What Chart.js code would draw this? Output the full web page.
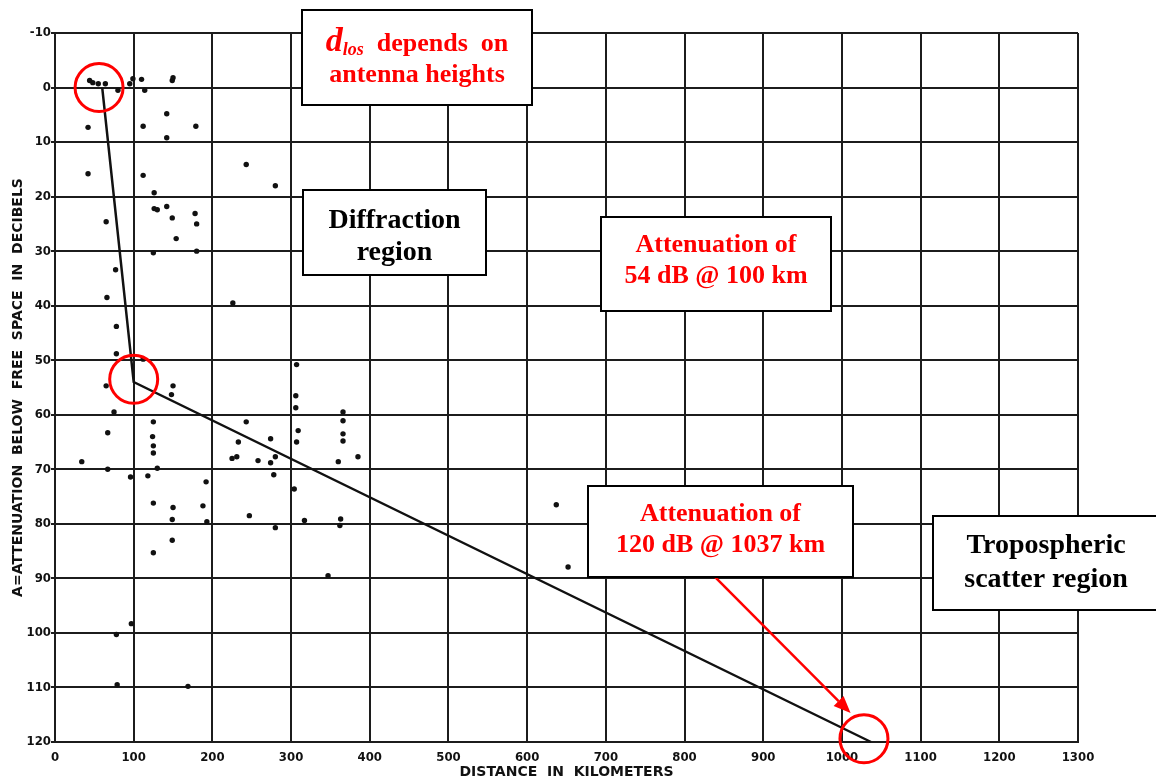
<!DOCTYPE html>
<html>
<head>
<meta charset="utf-8">
<script src="https://cdn.jsdelivr.net/npm/chart.js@4.4.0/dist/chart.umd.min.js"></script>
<style>
  html, body { margin: 0; padding: 0; background: #fff; }
  #wrap { width: 1156px; height: 781px; }
</style>
</head>
<body>
<div id="wrap"><canvas id="myChart" width="1156" height="781"></canvas></div>
<script>
// measured path loss samples: distance (km) and attenuation below free space (dB)
var sampleDist = [44, 48, 55, 64, 80, 95, 99, 110, 114, 149, 150,
  142, 42, 112, 179, 142, 243, 280, 42, 112, 126, 126, 130, 142, 149, 178, 180, 65, 154, 125, 180,
  77, 66, 226, 78, 78, 112, 65, 150, 148, 75, 125, 67, 124, 125, 125, 34, 67, 96, 118, 130,
  125, 150, 188, 192, 243, 233, 225, 231, 258, 274, 274, 280, 278,
  307, 306, 306, 309, 307, 304, 366, 366, 366, 366, 360, 385,
  149, 193, 247, 280, 317, 363, 362, 149, 125, 347, 97, 78, 79, 169, 637, 652];
var sampleLoss = [-1.3, -0.9, -0.7, -0.7, 0.5, -0.7, -1.6, -1.5, 0.5, -1.3, -1.8,
  4.8, 7.3, 7.1, 7.1, 9.2, 14.1, 18, 15.8, 16.1, 19.3, 22.2, 22.4, 21.8, 23.9, 23.1, 25, 24.6, 27.7, 30.3, 30,
  33.4, 38.5, 39.5, 43.8, 48.8, 49.8, 54.7, 54.7, 56.3, 59.5, 61.3, 63.3, 64, 65.7, 67, 68.6, 70, 71.4, 71.2, 69.8,
  76.2, 77, 76.7, 72.3, 61.3, 65, 68, 67.7, 68.4, 64.4, 68.8, 67.7, 71,
  50.8, 56.5, 58.7, 62.9, 65, 73.6, 59.5, 61.1, 63.5, 64.8, 68.6, 67.7,
  79.2, 79.6, 78.5, 80.7, 79.4, 79.1, 80.3, 83, 85.3, 89.5, 98.3, 100.3, 109.5, 109.8, 76.5, 87.9];

// piecewise curve: line of sight -> diffraction -> tropospheric scatter
var fitDist = [60, 100, 1037];
var fitLoss = [0, 54, 120];

// highlighted spots on the curve
var ringDist = [56, 100, 1028];
var ringLoss = [0, 53.5, 119.4];

// pointer from the 1037 km note down to the end of the curve
var arrowFrom = [837, 89.5];
var arrowTo = [1011, 114.7];

var xTicks = [0, 100, 200, 300, 400, 500, 600, 700, 800, 900, 1000, 1100, 1200, 1300];
var yTicks = [-10, 0, 10, 20, 30, 40, 50, 60, 70, 80, 90, 100, 110, 120];

function pts(xs, ys) {
  return xs.map(function (v, i) { return { x: v, y: ys[i] }; });
}

var RED = '#ff0000';
var SERIF = '"Liberation Serif", "Times New Roman", serif';

var boxes = [
  { x: 302, y: 10, w: 230, h: 95, color: RED, lines: [
    { base: 51, parts: [
      { t: 'd', font: 'italic bold 34px ' + SERIF, dy: 0 },
      { t: 'los', font: 'italic bold 18px ' + SERIF, dy: 4 },
      { t: '  depends  on', font: 'bold 26px ' + SERIF, dy: 0 }] },
    { base: 82, parts: [{ t: 'antenna heights', font: 'bold 26px ' + SERIF, dy: 0 }] }] },
  { x: 303, y: 190, w: 183, h: 85, color: '#000', lines: [
    { base: 228, parts: [{ t: 'Diffraction', font: 'bold 28px ' + SERIF, dy: 0 }] },
    { base: 260, parts: [{ t: 'region', font: 'bold 28px ' + SERIF, dy: 0 }] }] },
  { x: 601, y: 217, w: 230, h: 94, color: RED, lines: [
    { base: 252, parts: [{ t: 'Attenuation of', font: 'bold 26px ' + SERIF, dy: 0 }] },
    { base: 283, parts: [{ t: '54 dB @ 100 km', font: 'bold 26px ' + SERIF, dy: 0 }] }] },
  { x: 588, y: 486, w: 265, h: 91, color: RED, lines: [
    { base: 521, parts: [{ t: 'Attenuation of', font: 'bold 26px ' + SERIF, dy: 0 }] },
    { base: 552, parts: [{ t: '120 dB @ 1037 km', font: 'bold 26px ' + SERIF, dy: 0 }] }] },
  { x: 933, y: 516, w: 226, h: 94, color: '#000', lines: [
    { base: 553, parts: [{ t: 'Tropospheric', font: 'bold 28px ' + SERIF, dy: 0 }] },
    { base: 587, parts: [{ t: 'scatter region', font: 'bold 28px ' + SERIF, dy: 0 }] }] }
];

var notes = {
  id: 'notes',
  afterDraw: function (chart) {
    var ctx = chart.ctx, xs = chart.scales.x, ys = chart.scales.y;
    ctx.save();

    // red arrow
    var x0 = xs.getPixelForValue(arrowFrom[0]), y0 = ys.getPixelForValue(arrowFrom[1]);
    var x1 = xs.getPixelForValue(arrowTo[0]), y1 = ys.getPixelForValue(arrowTo[1]);
    var ang = Math.atan2(y1 - y0, x1 - x0);
    var head = 17, half = 7;
    ctx.strokeStyle = RED;
    ctx.fillStyle = RED;
    ctx.lineWidth = 2.5;
    ctx.beginPath();
    ctx.moveTo(x0, y0);
    ctx.lineTo(x1 - Math.cos(ang) * head, y1 - Math.sin(ang) * head);
    ctx.stroke();
    ctx.beginPath();
    ctx.moveTo(x1, y1);
    ctx.lineTo(x1 - Math.cos(ang) * head - Math.sin(ang) * half, y1 - Math.sin(ang) * head + Math.cos(ang) * half);
    ctx.lineTo(x1 - Math.cos(ang) * head + Math.sin(ang) * half, y1 - Math.sin(ang) * head - Math.cos(ang) * half);
    ctx.closePath();
    ctx.fill();

    // text boxes
    boxes.forEach(function (b) {
      ctx.fillStyle = '#fff';
      ctx.fillRect(b.x, b.y, b.w, b.h);
      ctx.strokeStyle = '#000';
      ctx.lineWidth = 2;
      ctx.strokeRect(b.x, b.y, b.w, b.h);
      ctx.fillStyle = b.color;
      ctx.textBaseline = 'alphabetic';
      ctx.textAlign = 'left';
      b.lines.forEach(function (ln) {
        var total = 0;
        ln.parts.forEach(function (p) { ctx.font = p.font; p.w = ctx.measureText(p.t).width; total += p.w; });
        var cx = b.x + (b.w - total) / 2;
        ln.parts.forEach(function (p) {
          ctx.font = p.font;
          ctx.fillText(p.t, cx, ln.base + p.dy);
          cx += p.w;
        });
      });
    });
    ctx.restore();
  }
};

var gridColor = '#1c1c1c';
var tickFont = { family: '"Liberation Sans Narrow", "DejaVu Sans Condensed", sans-serif', size: 13, weight: 'bold' };
var titleFont = { family: '"DejaVu Sans", sans-serif', size: 14, weight: 'bold' };

function plainTick(v) { return String(v); }

var ctx = document.getElementById('myChart').getContext('2d');
var myChart = new Chart(ctx, {
  type: 'scatter',
  data: {
    datasets: [
      {
        label: 'rings',
        data: pts(ringDist, ringLoss),
        pointRadius: 24,
        pointBorderWidth: 3,
        pointBorderColor: RED,
        pointBackgroundColor: 'rgba(0,0,0,0)',
        clip: false
      },
      {
        label: 'samples',
        data: pts(sampleDist, sampleLoss),
        pointRadius: 2.7,
        pointBorderWidth: 0,
        pointBackgroundColor: '#111',
        clip: false
      },
      {
        label: 'fit',
        data: pts(fitDist, fitLoss),
        showLine: true,
        borderColor: '#111',
        borderWidth: 2.5,
        pointRadius: 0,
        clip: false
      }
    ]
  },
  options: {
    responsive: false,
    animation: false,
    devicePixelRatio: 1,
    layout: { padding: { top: 33, right: 78, left: 0, bottom: 0 } },
    plugins: {
      legend: { display: false },
      tooltip: { enabled: false }
    },
    scales: {
      x: {
        type: 'linear',
        min: 0,
        max: 1300,
        afterBuildTicks: function (s) { s.ticks = xTicks.map(function (v) { return { value: v }; }); },
        afterFit: function (s) { s.height = 39; },
        grid: { color: gridColor, lineWidth: 2, tickLength: 0 },
        border: { color: gridColor, width: 2 },
        ticks: { color: '#111', font: tickFont, padding: 8, maxRotation: 0, callback: plainTick },
        title: {
          display: true,
          text: 'DISTANCE  IN  KILOMETERS',
          color: '#111',
          font: titleFont,
          padding: { top: 0, bottom: 0 }
        }
      },
      y: {
        type: 'linear',
        min: -10,
        max: 120,
        reverse: true,
        afterBuildTicks: function (s) { s.ticks = yTicks.map(function (v) { return { value: v }; }); },
        afterFit: function (s) { s.width = 55; },
        grid: { color: gridColor, lineWidth: 2, tickLength: 4 },
        border: { color: gridColor, width: 2 },
        ticks: { color: '#111', font: tickFont, padding: 0, callback: plainTick },
        title: {
          display: true,
          text: 'A=ATTENUATION  BELOW  FREE  SPACE  IN  DECIBELS',
          color: '#111',
          font: titleFont,
          padding: { top: 10, bottom: 0 }
        }
      }
    }
  },
  plugins: [notes]
});
</script>
</body>
</html>
